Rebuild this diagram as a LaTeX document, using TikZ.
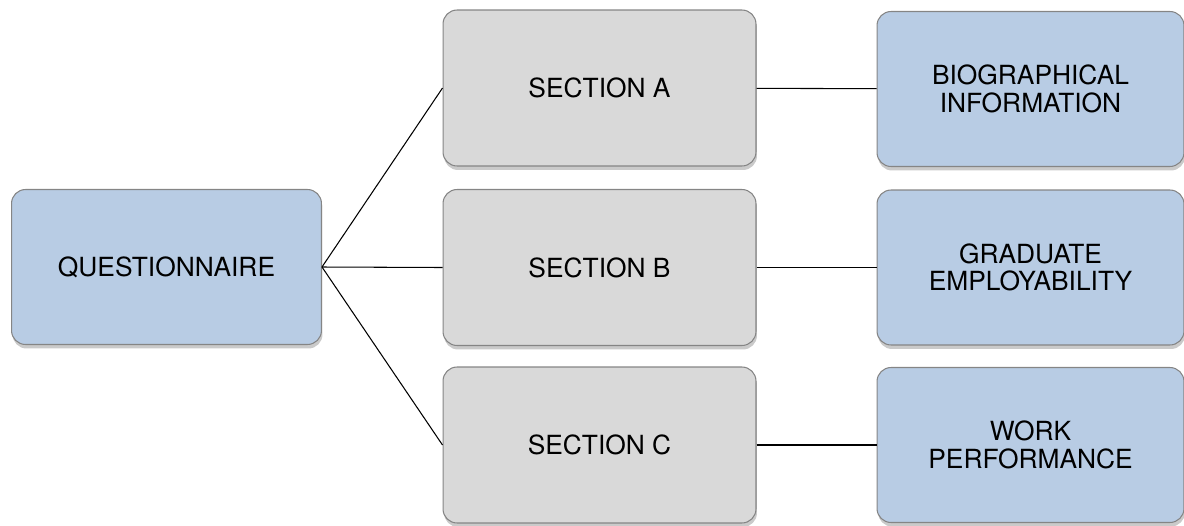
\documentclass[tikz,border=0pt]{standalone}
\usepackage{fontspec}
\setmainfont{TeX Gyre Heros}
\usepackage{tikz}
\usepackage{xcolor}
\usetikzlibrary{positioning, shadows}
\definecolor{boxblue}{HTML}{B8CCE4}
\definecolor{boxgray}{HTML}{D9D9D9}
\definecolor{boxline}{HTML}{858585}

\begin{document}
\begin{tikzpicture}[x=0.02cm, y=-0.02cm,
  font=\fontsize{15}{15.5}\selectfont,
  box/.style={draw=boxline, line width=0.6pt, rounded corners=0.28cm, align=center,
    minimum width=6.2cm, minimum height=3.1cm, inner sep=0pt,
    drop shadow={shadow xshift=0.02cm, shadow yshift=-0.08cm, opacity=0.35, fill=black!60}},
  bluebox/.style={box, fill=boxblue},
  graybox/.style={box, fill=boxgray, minimum width=6.26cm, minimum height=3.12cm},
  link/.style={draw=black, line width=0.6pt}]
\useasboundingbox (0,0) rectangle (1184,525);

\node[bluebox] (quest) at (166.5,267) {QUESTIONNAIRE};

\node[graybox] (secA) at (599.5,88) {SECTION A};
\node[graybox] (secB) at (599.5,267.5) {SECTION B};
\node[graybox] (secC) at (599.5,445) {SECTION C};

\node[bluebox, minimum width=6.14cm] (bio) at (1030.5,89) {BIOGRAPHICAL\\INFORMATION};
\node[bluebox, minimum width=6.14cm] (employ) at (1030.5,267.5) {GRADUATE\\EMPLOYABILITY};
\node[bluebox, minimum width=6.14cm] (work) at (1030.5,445) {WORK\\PERFORMANCE};

\draw[link] (quest.east) -- (secA.west);
\draw[link] (quest.east) -- (secB.west);
\draw[link] (quest.east) -- (secC.west);

\draw[link] (secA) -- (bio);
\draw[link] (secB) -- (employ);
\draw[link] (secC) -- (work);
\end{tikzpicture}
\end{document}
